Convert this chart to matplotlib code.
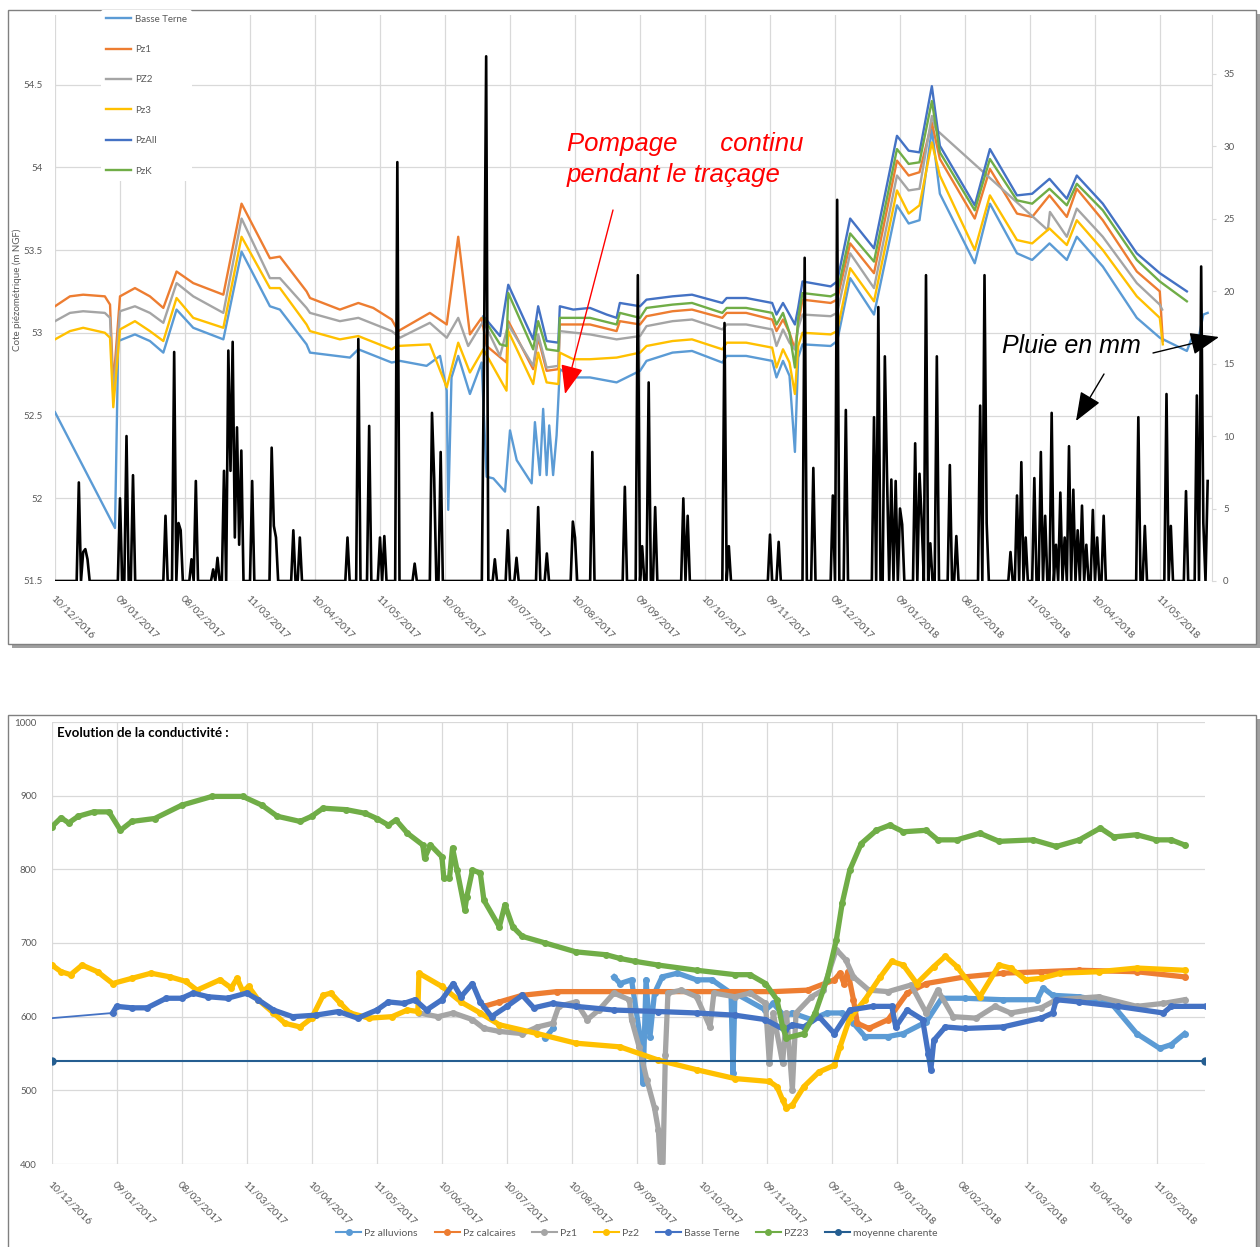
import numpy as np
import matplotlib.pyplot as plt
from matplotlib.patches import Rectangle
from matplotlib.lines import Line2D

plt.rcParams['font.family'] = ['Lato', 'DejaVu Sans']

# ---------------- data ----------------
date_labels = ['10/12/2016', '09/01/2017', '08/02/2017', '11/03/2017', '10/04/2017',
               '11/05/2017', '10/06/2017', '10/07/2017', '10/08/2017', '09/09/2017',
               '10/10/2017', '09/11/2017', '09/12/2017', '09/01/2018', '08/02/2018',
               '11/03/2018', '10/04/2018', '11/05/2018']
tick_days = np.arange(len(date_labels)) * 30   # days since 10/12/2016

lev_ticks = [51.5, 52, 52.5, 53, 53.5, 54, 54.5]
lev_labels = ['51.5', '52', '52.5', '53', '53.5', '54', '54.5']
rain_ticks = [0, 5, 10, 15, 20, 25, 30, 35]

# piezometric levels (m NGF), x = day index
bt_d = [0, 27.7, 29.2, 36.9, 43.8, 50, 56.1, 63.8, 77.7, 86.1, 99.2, 103.8, 116.1, 117.7, 136.1, 140,
        155.4, 159.2, 171.5, 177.7, 180.8, 181.5, 183, 186.1, 191.5, 196.9, 199.2, 202.3, 207.7, 210,
        213.1, 220, 221.5, 223.8, 225.3, 226.9, 228.1, 229.9, 231.5, 233, 239.2, 246.9, 259.2, 270,
        273, 285, 294, 308, 310, 319, 331, 333, 336, 339, 341.5, 343, 345, 358, 361, 367, 378, 388.6,
        394, 399, 404.7, 408.4, 424.5, 431.5, 444, 451, 459, 467, 471.6, 483.6, 499.3, 509.9, 522.4,
        525, 528, 530, 532]
bt_v = [52.52, 51.82, 52.95, 52.99, 52.95, 52.88, 53.14, 53.03, 52.96, 53.49, 53.16, 53.14, 52.93,
        52.88, 52.85, 52.90, 52.82, 52.83, 52.80, 52.86, 52.65, 51.93, 52.73, 52.86, 52.63, 52.82,
        52.13, 52.12, 52.04, 52.41, 52.23, 52.09, 52.46, 52.14, 52.54, 52.14, 52.44, 52.14, 52.38,
        52.78, 52.73, 52.73, 52.70, 52.77, 52.83, 52.88, 52.89, 52.82, 52.86, 52.86, 52.83, 52.73,
        52.83, 52.74, 52.28, 52.85, 52.93, 52.92, 52.95, 53.33, 53.11, 53.77, 53.66, 53.68, 54.23,
        53.84, 53.42, 53.78, 53.48, 53.44, 53.54, 53.44, 53.58, 53.40, 53.09, 52.97, 52.89, 52.98,
        52.98, 53.11, 53.12]

pz1_d = [0, 6.9, 13, 23, 25.4, 26.9, 30, 36.9, 43.8, 50, 56.1, 63.8, 77.7, 86.1, 99.2, 103.8, 116.1,
         117.7, 131.5, 140, 146.9, 155.4, 158.4, 173, 180.8, 186.1, 191.5, 196.9, 199.2, 208.4, 209.2,
         220.7, 223, 226.9, 232.3, 233, 246.9, 259.2, 260.7, 270, 273, 285, 294, 308, 310, 319, 331,
         333, 336, 339, 341.5, 343, 345, 358, 361, 367, 378, 388.6, 394, 399, 404.7, 408.4, 424.5,
         431.5, 444, 451, 459, 467, 471.6, 483.6, 499.3, 509.9, 511.3]
pz1_v = [53.16, 53.22, 53.23, 53.22, 53.17, 52.68, 53.22, 53.27, 53.22, 53.15, 53.37, 53.30, 53.23,
         53.78, 53.45, 53.46, 53.25, 53.21, 53.14, 53.18, 53.15, 53.08, 53.01, 53.12, 53.05, 53.58,
         52.99, 53.09, 52.92, 52.82, 53.07, 52.78, 52.97, 52.77, 52.78, 53.05, 53.05, 53.01, 53.07,
         53.05, 53.10, 53.13, 53.14, 53.09, 53.12, 53.12, 53.08, 53.01, 53.08, 53.00, 52.90, 53.05,
         53.20, 53.18, 53.20, 53.54, 53.36, 54.04, 53.95, 53.97, 54.27, 54.05, 53.69, 53.99, 53.72,
         53.70, 53.83, 53.70, 53.87, 53.68, 53.37, 53.25, 52.95]

pz2_d = [0, 6.9, 13, 23, 25.4, 26.9, 30, 36.9, 43.8, 50, 56.1, 63.8, 77.7, 86.1, 99.2, 103.8, 116.1,
         117.7, 131.5, 140, 155.4, 159.2, 173, 180.8, 186.1, 190.7, 197.7, 205.4, 209.2, 220.7, 223,
         226.9, 232.3, 233, 246.9, 259.2, 270, 273, 285, 294, 308, 310, 319, 331, 333, 336, 339,
         341.5, 343, 345, 358, 361, 367, 378, 388.6, 394, 399, 404.7, 406.5, 458.2, 459.2, 467,
         471.6, 483.6, 499.3, 509.9, 511]
pz2_v = [53.07, 53.12, 53.13, 53.12, 53.09, 52.62, 53.13, 53.16, 53.12, 53.06, 53.30, 53.22, 53.12,
         53.69, 53.33, 53.33, 53.15, 53.12, 53.07, 53.09, 53.01, 52.97, 53.06, 52.97, 53.09, 52.92,
         53.07, 52.86, 53.05, 52.80, 52.99, 52.79, 52.80, 53.01, 52.99, 52.96, 52.98, 53.04, 53.07,
         53.08, 53.02, 53.05, 53.05, 53.02, 52.92, 53.02, 52.94, 52.90, 53.03, 53.11, 53.10, 53.12,
         53.48, 53.27, 53.95, 53.86, 53.87, 54.31, 54.23, 53.62, 53.73, 53.58, 53.75, 53.58, 53.30,
         53.17, 53.14]

pz3_d = [0, 6.9, 13, 23, 25.4, 26.9, 30, 36.9, 43.8, 50, 56.1, 63.8, 77.7, 86.1, 99.2, 103.8, 116.1,
         117.7, 131.5, 140, 155.4, 157.7, 173, 180.8, 186.1, 191.5, 197.7, 208.4, 209.2, 220.7, 223,
         226.9, 232.3, 233, 239.2, 246.9, 259.2, 270, 273, 285, 294, 308, 310, 319, 331, 333, 336,
         339, 341.5, 343, 345, 358, 361, 367, 378, 388.6, 394, 399, 404.7, 408.4, 424.5, 431.5, 444,
         451, 459, 467, 471.6, 483.6, 499.3, 509.9, 511.3]
pz3_v = [52.96, 53.01, 53.03, 53.00, 52.97, 52.55, 53.02, 53.07, 53.01, 52.95, 53.21, 53.09, 53.03,
         53.58, 53.27, 53.27, 53.05, 53.01, 52.96, 52.98, 52.90, 52.92, 52.93, 52.67, 52.94, 52.76,
         52.90, 52.65, 53.01, 52.69, 52.88, 52.70, 52.69, 52.88, 52.84, 52.84, 52.85, 52.88, 52.92,
         52.95, 52.96, 52.90, 52.94, 52.94, 52.91, 52.79, 52.90, 52.82, 52.63, 52.92, 53.00, 52.99,
         53.01, 53.39, 53.19, 53.86, 53.72, 53.77, 54.15, 53.95, 53.50, 53.83, 53.56, 53.54, 53.63,
         53.53, 53.68, 53.50, 53.22, 53.09, 52.93]

pzall_d = [197.7, 205.4, 209.2, 220.7, 223, 226.9, 232.3, 233, 239.2, 246.9, 254.6, 259.2, 260.7,
           270, 273, 285, 294, 308, 310, 319, 331, 333, 336, 339, 341.5, 343, 345, 358, 361, 367,
           378, 388.6, 394, 399, 404.7, 408.4, 424.5, 431.5, 444, 451, 459, 467, 471.6, 483.6,
           499.3, 509.9, 522.4]
pzall_v = [53.10, 52.98, 53.29, 52.96, 53.16, 52.95, 52.94, 53.16, 53.14, 53.15, 53.11, 53.09, 53.18,
           53.16, 53.20, 53.22, 53.23, 53.18, 53.21, 53.21, 53.18, 53.11, 53.18, 53.11, 53.05, 53.15,
           53.31, 53.28, 53.31, 53.69, 53.51, 54.19, 54.10, 54.09, 54.49, 54.13, 53.77, 54.11, 53.83,
           53.84, 53.93, 53.81, 53.95, 53.78, 53.48, 53.36, 53.25]

pzk_d = [197.7, 205.4, 208.4, 209.2, 220.7, 223, 226.9, 232.3, 233, 246.9, 259.2, 260.7, 270,
         273, 285, 294, 308, 310, 319, 331, 333, 336, 339, 341.5, 343, 345, 358, 361, 367, 378,
         388.6, 394, 399, 404.7, 408.4, 424.5, 431.5, 444, 451, 459, 467, 471.6, 483.6, 499.3,
         509.9, 522.4]
pzk_v = [53.09, 52.93, 52.92, 53.24, 52.90, 53.07, 52.90, 52.89, 53.09, 53.09, 53.05, 53.12, 53.09,
         53.15, 53.17, 53.18, 53.12, 53.15, 53.15, 53.12, 53.05, 53.12, 53.00, 52.79, 53.09, 53.24,
         53.22, 53.24, 53.60, 53.43, 54.11, 54.02, 54.03, 54.40, 54.09, 53.74, 54.05, 53.80, 53.78,
         53.87, 53.77, 53.90, 53.74, 53.44, 53.31, 53.19]

# daily rain (mm), days without a listed value are dry
rain_day = [11, 13, 14, 15, 30, 33, 36, 51, 55, 57, 58, 63, 65, 73, 75, 78, 80, 81, 82, 83, 84, 85,
            86, 91, 100, 101, 102, 110, 113, 135, 140, 145, 150, 152, 158, 166, 174, 175, 178, 198,
            199, 203, 209, 213, 223, 227, 239, 240, 248, 263, 269, 271, 274, 277, 290, 292, 309,
            311, 330, 334, 346, 350, 359, 361, 365, 378, 380, 383, 384, 386, 388, 390, 391, 397,
            399, 400, 402, 404, 407, 413, 416, 427, 429, 430, 441, 444, 446, 448, 452, 455, 457,
            460, 462, 464, 466, 468, 470, 472, 474, 476, 479, 481, 484, 500, 503, 513, 515, 522,
            527, 529, 530, 532]
rain_mm = [6.8, 2.0, 2.2, 1.5, 5.7, 10.0, 7.3, 4.5, 15.8, 4.0, 3.5, 1.5, 6.9, 0.8, 1.6, 7.6, 15.9,
           7.6, 16.5, 3.0, 10.6, 2.5, 9.0, 6.9, 9.2, 3.8, 3.0, 3.5, 3.0, 3.0, 16.7, 10.7, 3.0, 3.1,
           28.9, 1.2, 11.6, 7.1, 8.9, 15.5, 36.2, 1.5, 3.5, 1.6, 5.1, 1.9, 4.1, 3.0, 8.9, 6.5, 21.1,
           2.4, 13.7, 5.1, 5.7, 4.5, 17.8, 2.4, 3.2, 2.7, 22.3, 7.8, 5.9, 26.3, 11.8, 11.3, 18.9,
           15.5, 7.3, 7.0, 6.9, 5.0, 3.9, 9.5, 7.4, 4.2, 21.1, 2.6, 15.5, 8.0, 3.1, 12.1, 21.1, 4.0,
           2.0, 5.9, 8.2, 3.0, 7.1, 8.9, 4.5, 11.6, 2.5, 6.1, 3.0, 9.3, 6.3, 3.5, 5.2, 2.5, 4.9, 3.0,
           4.5, 11.3, 3.8, 12.9, 3.8, 6.2, 12.8, 21.7, 4.0, 6.9]

# conductivity (bottom chart)
alluv_d = [227.6, 231.1, np.nan, 259.3, 262.1, 267.4, 271.8, 272.7, 274.1, 275.9, 278, 281.5, 288.6,
           297.4, 304.5, 313.3, 314.2, 315.1, 329.2, 332.8, 338.1, 341.6, 350.4, 357.5, 364.6, 369.8,
           375.1, 385.8, 392.8, 403.4, 410.5, 421.1, 438.7, 454.6, 457.3, 461.7, 474, 488.2, 500.5,
           511.1, 516.4, 522.6]
alluv_v = [571, 584, np.nan, 654, 645, 650, 564, 510, 650, 573, 632, 654, 659, 650, 650, 632, 523,
           632, 609, 618, 600, 605, 596, 605, 605, 591, 573, 573, 577, 593, 625, 625, 623, 623, 639,
           629, 627, 620, 577, 557, 562, 577]

calc_d = [199.3, 206.4, 217, 232.9, 262, 332.7, 348.6, 361, 363.6, 365.4, 367.2, 369.8, 371.6,
          376.9, 385.8, 394.6, 403.4, 421.1, 438.7, 456.4, 474, 500.5, 522.6]
calc_v = [614, 620, 629, 634, 634, 634, 636, 650, 659, 645, 661, 623, 591, 584, 596, 632, 645, 654,
          659, 661, 663, 661, 654]

c_pz1_d = [169.3, 178.1, 185.2, 194, 199.3, 206.4, 217, 224, 231.1, 233.8, 241.7, 247, 252.3, 259.3,
           266.4, 267.4, 270.9, 274.5, 278, 279.8, 280.7, 281.9, 283, 284.2, 290.4, 297.4, 303.6,
           305.4, 315.1, 322.1, 329.2, 331, 332.8, 337.1, 338.9, 341.6, 343.3, 350.4, 355.7, 361.9,
           366.3, 369.8, 376.9, 385.8, 396.4, 403.4, 408.7, 415.8, 426.4, 435.1, 442.3, 456.4,
           463.4, 482.9, 500.5, 512.8, 522.6]
c_pz1_v = [605, 600, 605, 596, 584, 580, 577, 586, 591, 614, 620, 596, 609, 632, 623, 596, 559, 514,
           476, 446, 396, 396, 548, 632, 636, 627, 586, 632, 627, 632, 618, 537, 605, 537, 605, 501,
           605, 627, 636, 691, 677, 654, 636, 634, 643, 605, 636, 600, 598, 614, 605, 612, 623, 627,
           614, 618, 623]

c_pz2_d = [0, 4.2, 8.6, 13.9, 21, 28, 36.8, 45.7, 54.5, 61.6, 66.9, 77.5, 82.7, 85.4, 88.1, 90.7,
           95.1, 102.2, 107.5, 114.5, 119.8, 125.1, 128.7, 133.1, 137.5, 146.3, 156.9, 164, 168.8,
           169.3, 179.9, 188.7, 197.6, 206.4, 224, 241.7, 262.1, 279.8, 297.4, 315.1, 331, 334.5,
           337.1, 338.9, 341.6, 346.9, 353.9, 361, 363.6, 368.1, 375.1, 382.2, 387.5, 392.8, 399,
           406.9, 412.2, 417.5, 428.1, 437, 442.3, 449.3, 456.4, 465.2, 482.9, 500.5, 522.6]
c_pz2_v = [670, 661, 657, 670, 661, 645, 652, 659, 654, 648, 636, 650, 639, 652, 634, 641, 623, 605,
           591, 586, 598, 629, 632, 618, 605, 598, 600, 609, 607, 659, 641, 620, 605, 589, 577, 564,
           559, 541, 528, 516, 512, 505, 487, 476, 480, 505, 525, 534, 559, 598, 623, 654, 675, 670,
           645, 668, 682, 668, 627, 670, 666, 650, 652, 659, 661, 666, 663]

bterne_d = [0, 28, 29.8, 36.8, 43.9, 52.7, 59.8, 65.1, 72.2, 81, 89.8, 95.1, 102.2, 111, 121.6, 132.2,
            141, 149.9, 155.2, 162.3, 167.5, 172.8, 179.9, 185.2, 188.7, 194, 197.6, 202.8, 209.9,
            217, 222.3, 231.1, 241.7, 259.3, 279.8, 297.4, 315.1, 329.2, 338.1, 341.6, 346.9, 353.9,
            361, 368.1, 378.7, 387.5, 389.3, 394.6, 401.7, 404.3, 405.5, 406.9, 412.2, 421.1, 438.7,
            456.4, 461.7, 463.4, 474, 491.7, 512.8, 516.4, 532.3]
bterne_v = [598, 605, 614, 612, 612, 625, 625, 632, 627, 625, 632, 623, 609, 600, 602, 607, 598, 609,
            620, 618, 623, 609, 623, 645, 627, 645, 620, 600, 614, 629, 612, 618, 614, 609, 607, 605,
            602, 596, 582, 589, 586, 600, 577, 609, 614, 614, 586, 609, 596, 550, 528, 568, 586, 584,
            586, 598, 605, 623, 620, 614, 605, 614, 614]

pz23_d = [0, 4.2, 7.7, 12.1, 19.2, 26.3, 31.6, 36.8, 47.4, 59.8, 73.9, 88, 96.9, 104, 114.5, 119.8,
          125.1, 135.8, 144.6, 149.9, 155.2, 158.7, 164, 171.1, 171.9, 174.6, 179.9, 180.8, 183.4,
          184.8, 186.9, 190.5, 191.4, 194, 197.6, 199.3, 206.4, 209, 212.6, 217, 227.6, 241.7, 255.8,
          262.1, 269.2, 279.8, 297.4, 315.1, 322.1, 329.2, 334.5, 337.1, 338.9, 346.9, 352.2, 357.5,
          361.9, 364.6, 368.1, 373.4, 380.4, 386.6, 392.8, 403.4, 408.7, 417.5, 428.1, 437, 452.8,
          463.4, 474, 483.7, 489.9, 500.5, 509.4, 516.4, 522.6]
pz23_v = [858, 870, 863, 872, 878, 878, 853, 865, 869, 887, 899, 899, 887, 872, 865, 872, 883, 881,
          876, 869, 860, 867, 849, 833, 815, 833, 817, 788, 788, 829, 799, 745, 763, 799, 795, 758,
          722, 752, 722, 709, 700, 688, 684, 679, 675, 670, 663, 657, 657, 645, 623, 586, 571, 577,
          605, 650, 704, 754, 799, 835, 853, 860, 851, 853, 840, 840, 849, 838, 840, 831, 840, 856,
          844, 847, 840, 840, 833]

charente_d = [0, 532]
charente_v = [540, 540]

# ---------------- figure ----------------
W, H = 1260, 1247
fig = plt.figure(figsize=(W / 100, H / 100), dpi=100)
GRAY = '#595959'
GRID = '#d9d9d9'


def fx(x):
    return x / W


def fy(y):
    return 1 - y / H


def framed_box(x0, y0, x1, y1):
    sh = Rectangle((fx(x0 + 4), fy(y1 + 4)), (x1 - x0) / W, (y1 - y0) / H, transform=fig.transFigure,
                   facecolor='#a0a0a0', edgecolor='none', zorder=-3)
    bx = Rectangle((fx(x0), fy(y1)), (x1 - x0) / W, (y1 - y0) / H, transform=fig.transFigure,
                   facecolor='white', edgecolor='#808080', lw=1, zorder=-2)
    fig.patches.extend([sh, bx])


framed_box(8, 10, 1256, 644)
framed_box(8, 715, 1256, 1260)

# ---- top chart: levels + rain ----
ax1 = fig.add_axes([fx(55), fy(581), (1212 - 55) / W, (581 - 15) / H])
ax1.set_xlim(0, 534)
ax1.set_ylim(51.5, 54.92)
ax1.set_yticks(lev_ticks)
ax1.set_yticklabels(lev_labels)
ax1.set_xticks(tick_days)
ax1.set_xticklabels(date_labels, rotation=-45, ha='left', va='top', rotation_mode='anchor')
ax1.grid(color=GRID, lw=0.9)
ax1.set_axisbelow(True)
for s in ax1.spines.values():
    s.set_visible(False)
ax1.tick_params(length=0, labelsize=7.5, labelcolor=GRAY)
ax1.tick_params(axis='x', pad=9)
ax1.tick_params(axis='y', pad=9, labelsize=7)

lw = 1.7
ax1.plot(bt_d, bt_v, color='#5B9BD5', lw=lw, label='Basse Terne')
ax1.plot(pz1_d, pz1_v, color='#ED7D31', lw=lw, label='Pz1')
ax1.plot(pz2_d, pz2_v, color='#A5A5A5', lw=lw, label='PZ2')
ax1.plot(pz3_d, pz3_v, color='#FFC000', lw=lw, label='Pz3')
ax1.plot(pzall_d, pzall_v, color='#4472C4', lw=lw, label='PzAll')
ax1.plot(pzk_d, pzk_v, color='#70AD47', lw=lw, label='PzK')

leg = ax1.legend(loc='upper left', bbox_to_anchor=(fx(96), fy(5)), bbox_transform=fig.transFigure,
                 fontsize=7, labelspacing=2.2, handlelength=2.6, handletextpad=0.4,
                 frameon=True, facecolor='white', edgecolor='none', framealpha=1, borderpad=0.5)
for t in leg.get_texts():
    t.set_color(GRAY)

fig.text(fx(17), fy(290), 'Cote piézométrique (m NGF)', rotation=90, fontsize=7, color=GRAY,
         ha='center', va='center')

ax1r = ax1.twinx()
rain = np.zeros(533)
rain[rain_day] = rain_mm
ax1r.plot(np.arange(533), rain, color='black', lw=1.9)
ax1r.set_ylim(0, 39.05)
ax1r.set_yticks(rain_ticks)
for s in ['top', 'bottom', 'left']:
    ax1r.spines[s].set_visible(False)
ax1r.spines['right'].set_color(GRID)
ax1r.tick_params(axis='y', length=3, color=GRID, labelsize=7, labelcolor=GRAY, pad=5)

# annotations
fig.text(fx(567), fy(144), 'Pompage      continu', color='red', fontsize=18.5, style='italic',
         family=['Liberation Sans'], va='center', ha='left')
fig.text(fx(567), fy(175), 'pendant le traçage', color='red', fontsize=18.5, style='italic',
         family=['Liberation Sans'], va='center', ha='left')
fig.text(fx(1002), fy(346), 'Pluie en mm', color='black', fontsize=18, style='italic',
         family=['Liberation Sans'], va='center', ha='left')
ax1r.annotate('', xy=(565, H - 394), xytext=(613, H - 210), xycoords='figure pixels',
              textcoords='figure pixels', annotation_clip=False,
              arrowprops=dict(arrowstyle='-|>,head_length=0.9,head_width=0.35', color='red',
                              lw=1, mutation_scale=20, shrinkA=0, shrinkB=0))
ax1r.annotate('', xy=(1219, H - 337), xytext=(1153, H - 353), xycoords='figure pixels',
              textcoords='figure pixels', annotation_clip=False,
              arrowprops=dict(arrowstyle='-|>,head_length=0.9,head_width=0.35', color='black',
                              lw=1, mutation_scale=20, shrinkA=0, shrinkB=0))
ax1r.annotate('', xy=(1076, H - 421), xytext=(1104, H - 374), xycoords='figure pixels',
              textcoords='figure pixels', annotation_clip=False,
              arrowprops=dict(arrowstyle='-|>,head_length=0.9,head_width=0.35', color='black',
                              lw=1, mutation_scale=20, shrinkA=0, shrinkB=0))

# ---- bottom chart: conductivity ----
ax2 = fig.add_axes([fx(52), fy(1164), (1205 - 52) / W, (1164 - 722) / H])
ax2.set_xlim(0, 532)
ax2.set_ylim(400, 1000)
ax2.set_yticks(np.arange(400, 1001, 100))
ax2.set_xticks(tick_days)
ax2.set_xticklabels(date_labels, rotation=-45, ha='left', va='top', rotation_mode='anchor')
ax2.grid(color=GRID, lw=0.9)
ax2.set_axisbelow(True)
for s in ax2.spines.values():
    s.set_visible(False)
ax2.tick_params(length=0, labelsize=7.5, labelcolor=GRAY)
ax2.tick_params(axis='x', pad=11)
ax2.tick_params(axis='y', pad=11, labelsize=7)

series = [
    ('Pz alluvions', alluv_d, alluv_v, '#5B9BD5'),
    ('Pz calcaires', calc_d, calc_v, '#ED7D31'),
    ('Pz1', c_pz1_d, c_pz1_v, '#A5A5A5'),
    ('Pz2', c_pz2_d, c_pz2_v, '#FFC000'),
    ('Basse Terne', bterne_d, bterne_v, '#4472C4'),
    ('PZ23', pz23_d, pz23_v, '#70AD47'),
]
handles = []
for name, d, v, c in series:
    if name == 'Basse Terne':
        ax2.plot(d[:2], v[:2], color=c, lw=1.3)
        ax2.plot(d[1:], v[1:], color=c, lw=3.8, marker='o', ms=4)
    else:
        ax2.plot(d, v, color=c, lw=3.8, marker='o', ms=4)
    handles.append(Line2D([], [], color=c, lw=1.5, marker='o', ms=4))
ax2.plot(charente_d, charente_v, color='#255E91', lw=1.5, marker='o', ms=5)
handles.append(Line2D([], [], color='#255E91', lw=1.5, marker='o', ms=4))
names = [s[0] for s in series] + ['moyenne charente']

fig.text(fx(57), fy(733), 'Evolution de la conductivité :', fontsize=9.5, fontweight='bold',
         color='black', ha='left', va='center')

leg2 = fig.legend(handles, names, loc='center', bbox_to_anchor=(fx(637), fy(1233)), ncol=7,
                  frameon=False, fontsize=7.5, handlelength=2.4, handletextpad=0.3,
                  columnspacing=1.6)
for t in leg2.get_texts():
    t.set_color(GRAY)

fig.savefig('out.png', dpi=100)
